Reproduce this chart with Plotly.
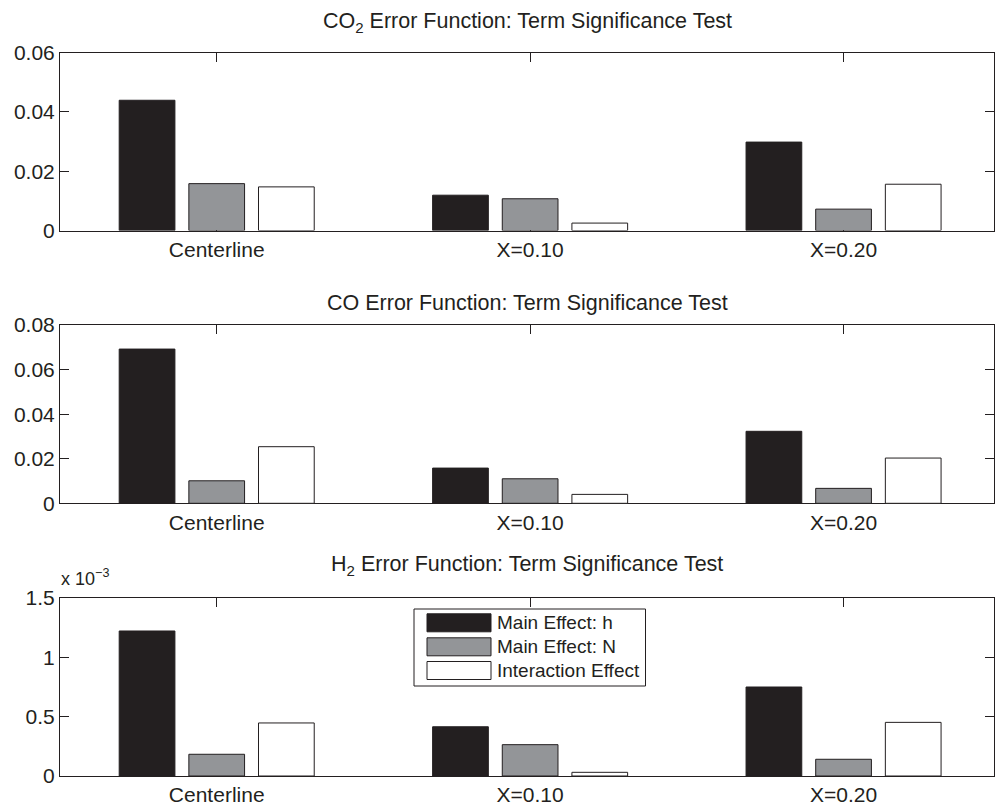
import plotly.graph_objects as go
from plotly.subplots import make_subplots

# ---- data ----
categories = ["Centerline", "X=0.10", "X=0.20"]
series_names = ["Main Effect: h", "Main Effect: N", "Interaction Effect"]

co2_values = [
    [0.0439, 0.0119, 0.0298],   # Main Effect: h
    [0.0158, 0.0107, 0.0072],   # Main Effect: N
    [0.0147, 0.0025, 0.0156],   # Interaction Effect
]
co_values = [
    [0.0692, 0.0158, 0.0323],
    [0.0101, 0.0110, 0.0067],
    [0.0254, 0.0040, 0.0203],
]
h2_values = [
    [1.222e-3, 0.415e-3, 0.750e-3],
    [0.183e-3, 0.264e-3, 0.141e-3],
    [0.447e-3, 0.031e-3, 0.452e-3],
]

co2_ticks = [0, 0.02, 0.04, 0.06]
co_ticks = [0, 0.02, 0.04, 0.06, 0.08]
h2_ticks = [0, 0.5e-3, 1.0e-3, 1.5e-3]
h2_ticktext = ["0", "0.5", "1", "1.5"]

titles = [
    "CO<sub>2</sub> Error Function: Term Significance Test",
    "CO Error Function: Term Significance Test",
    "H<sub>2</sub> Error Function: Term Significance Test",
]

# ---- styling ----
W, H = 995, 808
INK = "#231f20"
fills = ["#231f20", "#939598", "#ffffff"]
FONT = "Liberation Sans, Arial, Helvetica, sans-serif"

# plot-area rows in pixels (top, bottom)
rows_px = [(52.5, 230.5), (325.0, 503.3), (598.0, 776.0)]
left_px, right_px = 60.0, 994.0


def py(y):
    return 1 - y / H


def px(x):
    return x / W


fig = make_subplots(rows=3, cols=1)

panels = [
    (co2_values, co2_ticks, None, 0.06),
    (co_values, co_ticks, None, 0.08),
    (h2_values, h2_ticks, h2_ticktext, 1.5e-3),
]

for r, (vals, ticks, ticktext, ymax) in enumerate(panels, start=1):
    for s, name in enumerate(series_names):
        fig.add_trace(
            go.Bar(
                x=categories,
                y=vals[s],
                name=name,
                marker=dict(color=fills[s], line=dict(color=INK, width=1)),
                showlegend=False,
            ),
            row=r, col=1,
        )
    top, bot = rows_px[r - 1]
    axis_common = dict(
        showline=True, linecolor=INK, linewidth=1, mirror="ticks",
        ticks="inside", ticklen=9, tickcolor=INK, tickwidth=1,
        showgrid=False, zeroline=False, layer="below traces",
        automargin=False,
        tickfont=dict(family=FONT, size=21, color=INK),
    )
    fig.update_xaxes(
        domain=[px(left_px), px(right_px)],
        range=[-0.5, 2.48], type="category",
        **axis_common, row=r, col=1,
    )
    yargs = dict(tickvals=ticks, range=[0, ymax])
    if ticktext is not None:
        yargs["ticktext"] = ticktext
    fig.update_yaxes(domain=[py(bot), py(top)], **yargs, **axis_common,
                     row=r, col=1)

annotations = []
title_y = [22, 303, 565]
for t, ty in zip(titles, title_y):
    annotations.append(dict(
        text=t, xref="paper", yref="paper",
        x=px((left_px + right_px) / 2), y=py(ty),
        xanchor="center", yanchor="middle", showarrow=False,
        font=dict(family=FONT, size=21.5, color=INK),
    ))

# exponent label for the H2 axis
annotations.append(dict(
    text="x 10<sup>\u22123</sup>", xref="paper", yref="paper",
    x=px(59), y=py(591), xanchor="left", yanchor="bottom", showarrow=False,
    font=dict(family=FONT, size=18, color=INK),
))

# legend box inside the H2 panel
shapes = []
box_l, box_r, box_t, box_b = 414, 645.5, 609, 686
shapes.append(dict(type="rect", xref="paper", yref="paper",
                   x0=px(box_l), x1=px(box_r), y0=py(box_b), y1=py(box_t),
                   line=dict(color=INK, width=1), fillcolor="#ffffff",
                   layer="above"))
row_centers = [622.8, 646.8, 670.5]
for s, (name, yc) in enumerate(zip(series_names, row_centers)):
    shapes.append(dict(type="rect", xref="paper", yref="paper",
                       x0=px(427), x1=px(491), y0=py(yc + 9), y1=py(yc - 9),
                       line=dict(color=INK, width=1), fillcolor=fills[s],
                       layer="above"))
    annotations.append(dict(
        text=name, xref="paper", yref="paper",
        x=px(495), y=py(yc), xanchor="left", yanchor="middle",
        showarrow=False, font=dict(family=FONT, size=19, color=INK),
    ))

fig.update_layout(
    width=W, height=H,
    margin=dict(l=0, r=0, t=0, b=0, pad=0, autoexpand=False),
    paper_bgcolor="#ffffff", plot_bgcolor="#ffffff",
    barmode="group", bargap=1 / 3, bargroupgap=0.2,
    annotations=annotations, shapes=shapes,
    showlegend=False,
)

fig.write_html("out.html")
